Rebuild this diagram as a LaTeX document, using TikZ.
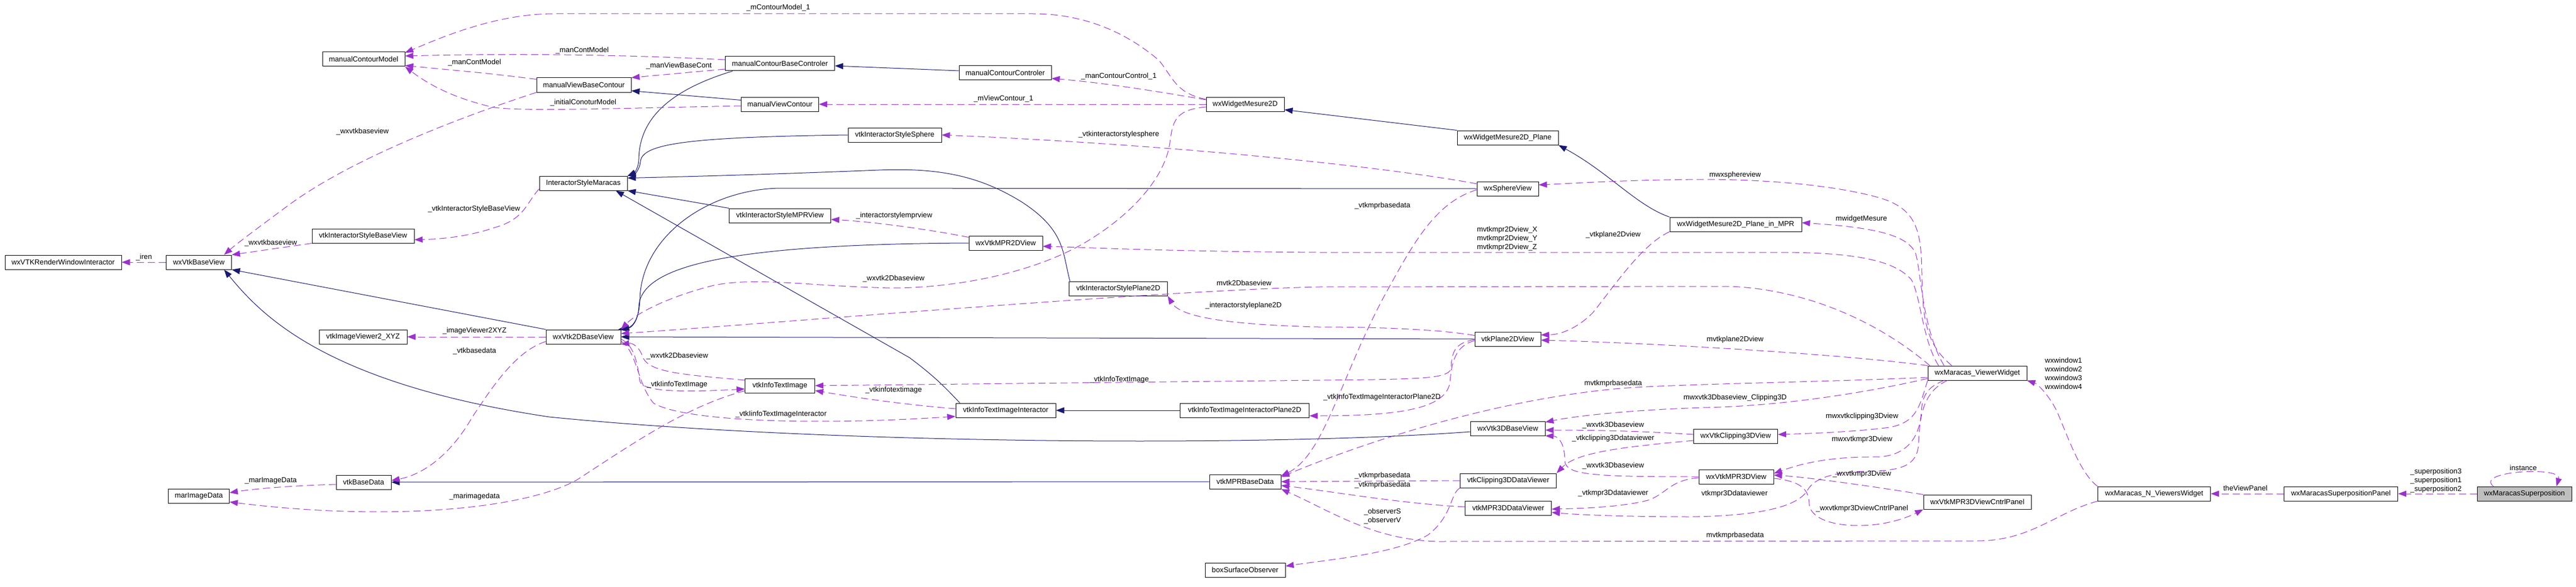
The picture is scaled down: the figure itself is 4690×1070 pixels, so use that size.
\documentclass[tikz,border=0pt]{standalone}
\usepackage{fontspec}
\setmainfont{Liberation Sans}
\usetikzlibrary{arrows.meta}
\definecolor{dblue}{HTML}{191970}
\definecolor{dpurple}{HTML}{9A32CD}
\definecolor{nodegrey}{HTML}{BFBFBF}
\newcommand{\dfont}{\fontsize{13.2}{16}\selectfont}
\begin{document}
\begin{tikzpicture}[x=1pt,y=-1pt,
  cls/.style={draw=black, line width=1pt, fill=white, minimum height=26pt, inner sep=0pt, font=\dfont},
  inh/.style={draw=dblue, line width=1pt, -{Triangle[length=15pt,width=11pt]}},
  use/.style={draw=dpurple, line width=1pt, dash pattern=on 13pt off 7pt, -{Triangle[length=15pt,width=11pt]}},
  lbl/.style={font=\dfont, inner sep=0pt, text=black},
  lbll/.style={font=\dfont, inner sep=0pt, text=black, align=left}]
\useasboundingbox[fill=white] (0,0) rectangle (4690,1070);

% ---------------- nodes ----------------
\node[cls,minimum width=150pt] (mcm) at (662,108) {manualContourModel};
\node[cls,minimum width=212pt] (rwi) at (115,478) {wxVTKRenderWindowInteractor};
\node[cls,minimum width=119pt] (vbv) at (362,478) {wxVtkBaseView};
\node[cls,minimum width=186pt] (isbv) at (661,430) {vtkInteractorStyleBaseView};
\node[cls,minimum width=160pt] (iv2) at (661,614) {vtkImageViewer2\_XYZ};
\node[cls,minimum width=100pt] (vbd) at (662,879) {vtkBaseData};
\node[cls,minimum width=111pt] (mid) at (362,904) {marImageData};
\node[cls,minimum width=199pt] (mcbc) at (1420,116) {manualContourBaseControler};
\node[cls,minimum width=172pt] (mvbc) at (1063,155) {manualViewBaseContour};
\node[cls,minimum width=141pt] (mvc) at (1420,190) {manualViewContour};
\node[cls,minimum width=160pt] (ism) at (1062,334) {InteractorStyleMaracas};
\node[cls,minimum width=185pt] (ismpr) at (1420,393) {vtkInteractorStyleMPRView};
\node[cls,minimum width=170pt] (issph) at (1629,246) {vtkInteractorStyleSphere};
\node[cls,minimum width=136pt] (v2d) at (1062,614) {wxVtk2DBaseView};
\node[cls,minimum width=127pt] (iti) at (1420,703) {vtkInfoTextImage};
\node[cls,minimum width=168pt] (mcc) at (1830,133) {manualContourControler};
\node[cls,minimum width=142pt] (wm2d) at (2267,190) {wxWidgetMesure2D};
\node[cls,minimum width=134pt] (mpr2d) at (1831,443) {wxVtkMPR2DView};
\node[cls,minimum width=179pt] (isp2d) at (2036,526) {vtkInteractorStylePlane2D};
\node[cls,minimum width=182pt] (itii) at (1831,748) {vtkInfoTextImageInteractor};
\node[cls,minimum width=235pt] (itiip) at (2266,748) {vtkInfoTextImageInteractorPlane2D};
\node[cls,minimum width=130pt] (mprbd) at (2267,878) {vtkMPRBaseData};
\node[cls,minimum width=146pt] (bso) at (2267,1039) {boxSurfaceObserver};
\node[cls,minimum width=184pt] (wm2dp) at (2745,251) {wxWidgetMesure2D\_Plane};
\node[cls,minimum width=112pt] (sph) at (2745,344) {wxSphereView};
\node[cls,minimum width=240pt] (wm2dpm) at (3160,409) {wxWidgetMesure2D\_Plane\_in\_MPR};
\node[cls,minimum width=120pt] (p2d) at (2745,618) {vtkPlane2DView};
\node[cls,minimum width=136pt] (v3d) at (2745,781) {wxVtk3DBaseView};
\node[cls,minimum width=175pt] (c3ddv) at (2746,876) {vtkClipping3DDataViewer};
\node[cls,minimum width=157pt] (m3ddv) at (2746,926) {vtkMPR3DDataViewer};
\node[cls,minimum width=153pt] (c3dv) at (3160,795) {wxVtkClipping3DView};
\node[cls,minimum width=136pt] (m3dv) at (3161,869) {wxVtkMPR3DView};
\node[cls,minimum width=180pt] (vw) at (3600,680) {wxMaracas\_ViewerWidget};
\node[cls,minimum width=196pt] (m3dcp) at (3600,915) {wxVtkMPR3DViewCntrlPanel};
\node[cls,minimum width=205pt] (nvw) at (3922,900) {wxMaracas\_N\_ViewersWidget};
\node[cls,minimum width=207pt] (spp) at (4262,900) {wxMaracasSuperpositionPanel};
\node[cls,minimum width=172pt,fill=nodegrey] (sp) at (4596,900) {wxMaracasSuperposition};

% ---------------- inheritance ----------------
\draw[inh] (v2d.north west) -- (vbv.south east);
\draw[inh] ([yshift=-6pt]v3d.west) .. controls (2300,815) and (1500,810) .. (1000,760) .. controls (600,700) and (480,580) .. ([xshift=46pt]vbv.south);
\draw[inh] (mpr2d.west) .. controls (1350,445) and (1165,480) .. (1163,560) .. controls (1162,585) and (1150,597) .. (v2d.north east);
\draw[inh] (sph.west) -- (1420,343) .. controls (1290,345) and (1168,430) .. (1165,545) .. controls (1164,585) and (1150,597) .. ([xshift=-5pt]v2d.north east);
\draw[inh] (p2d.west) -- (v2d.east);
\draw[inh] ([xshift=14pt]mcbc.south west) .. controls (1200,170) and (1164,230) .. (1163,290) .. controls (1163,305) and (1155,315) .. (ism.north east);
\draw[inh] (issph.west) .. controls (1250,250) and (1168,262) .. (1166,295) .. controls (1165,308) and (1155,318) .. (ism.north east);
\draw[inh] ([xshift=2pt]isp2d.north west) .. controls (1934,460) and (1940,420) .. (1860,368) .. controls (1790,325) and (1720,305) .. (1600,310) .. controls (1400,318) and (1250,322) .. ([yshift=-4pt]ism.north east);
\draw[inh] (ismpr.north west) -- (ism.south east);
\draw[inh] ([xshift=8pt]itii.north west) .. controls (1720,705) and (1700,685) .. (1656,652) -- ([xshift=59pt]ism.south);
\draw[inh] ([yshift=-6pt]mvc.north west) -- ([yshift=3pt]mvbc.south east);
\draw[inh] ([yshift=4pt]mcc.west) -- ([yshift=-4pt]mcbc.east);
\draw[inh] (wm2dp.north west) -- ([yshift=-10pt]wm2d.east);
\draw[inh] (wm2dpm.north west) .. controls (2980,375) and (2930,315) .. (wm2dp.south east);
\draw[inh] (itiip.west) -- (itii.east);
\draw[inh] (mprbd.west) -- (vbd.east);

% ---------------- usage ----------------
\draw[use] (vbv.west) -- (rwi.east);
\node[lbl] (l1) at (262,469) {\_iren};
\draw[use] (isbv.south west) -- (vbv.north east);
\node[lbl] (l2) at (493,443) {\_wxvtkbaseview};
\draw[use] (mvbc.south west) .. controls (880,200) and (650,280) .. (520,378) .. controls (470,415) and (430,445) .. ([xshift=46pt]vbv.north);
\node[lbl] (l3) at (660,240) {\_wxvtkbaseview};
\draw[use] ([yshift=-3pt]mvbc.north west) .. controls (900,135) .. ([yshift=2pt]mcm.south east);
\node[lbl] (l4) at (864,114) {\_manContModel};
\draw[use] ([yshift=7pt]mcbc.west) .. controls (1150,100) and (950,97) .. ([yshift=6pt]mcm.east);
\node[lbl] (l5) at (1060,92) {\_manContModel};
\draw[use] ([yshift=9pt]wm2d.west) .. controls (2140,170) and (2135,140) .. (2110,110) .. controls (2040,50) and (1960,25) .. (1880,25) -- (1010,25) .. controls (900,25) and (800,70) .. ([yshift=12pt]mcm.east);
\node[lbl] (l6) at (1417,14) {\_mContourModel\_1};
\draw[use] ([yshift=-10pt]mcbc.west) -- (mvbc.north east);
\node[lbl] (l7) at (1236,120) {\_manViewBaseCont};
\draw[use] ([yshift=-3pt]mvc.west) .. controls (1100,198) and (960,203) .. (900,196) .. controls (820,178) and (775,150) .. (mcm.south east);
\node[lbl] (l8) at (1062,187) {\_initialConoturModel};
\draw[use] (wm2d.west) -- (mvc.east);
\node[lbl] (l9) at (1827,180) {\_mViewContour\_1};
\draw[use] ([yshift=8pt]wm2d.west) .. controls (2100,165) and (2000,150) .. ([yshift=-10pt]mcc.east);
\node[lbl] (l10) at (2037,139) {\_manContourControl\_1};
\draw[use] ([yshift=9pt]sph.west) .. controls (2500,300) and (2100,262) .. (issph.east);
\node[lbl] (l11) at (2037,245) {\_vtkinteractorstylesphere};
\draw[use] ([yshift=3pt]ism.south west) .. controls (958,370) and (955,400) .. (900,415) .. controls (850,432) and (800,436) .. ([yshift=-7pt]isbv.east);
\node[lbl] (l12) at (863,381) {\_vtkInteractorStyleBaseView};
\draw[use] ([yshift=-3pt]mpr2d.north west) .. controls (1700,420) and (1600,405) .. ([yshift=-7pt]ismpr.east);
\node[lbl] (l13) at (1628,393) {\_interactorstylemprview};
\draw[use] ([yshift=-5pt]wm2d.west) .. controls (2140,200) and (2135,220) .. (2130,260) .. controls (2120,330) and (2050,400) .. (1967,447) .. controls (1880,495) and (1750,525) .. (1620,525) .. controls (1450,520) and (1380,505) .. (1300,520) .. controls (1220,540) and (1160,570) .. (v2d.north east);
\node[lbl] (l14) at (1627,508) {\_wxvtk2Dbaseview};
\draw[use] ([xshift=4pt]vw.north west) .. controls (3460,620) and (3330,530) .. (3150,522) -- (2400,523) .. controls (2100,530) and (1400,590) .. ([yshift=6pt]v2d.east);
\node[lbl] (l15) at (2265,516) {mvtk2Dbaseview};
\draw[use] ([xshift=44pt]vw.north west) .. controls (3510,630) and (3500,590) .. (3499,500) .. controls (3498,420) and (3490,380) .. (3420,360) .. controls (3330,335) and (3200,327) .. (3100,327) .. controls (2950,328) and (2850,335) .. ([yshift=7pt]sph.east);
\node[lbl] (l16) at (3159,319) {mwxsphereview};
\draw[use] ([xshift=30pt]vw.north west) .. controls (3500,600) and (3498,500) .. (3488,463) .. controls (3475,430) and (3420,415) .. ([yshift=3pt]wm2dpm.east);
\node[lbl] (l17) at (3389,399) {mwidgetMesure};
\draw[use] ([xshift=20pt]vw.north west) .. controls (3500,620) and (3497,540) .. (3480,510) .. controls (3450,475) and (3380,461) .. (3250,460) -- (2400,460) .. controls (2100,458) and (1950,450) .. ([yshift=-6pt]mpr2d.east);
\node[lbll] (l18) at (2744,435) {mvtkmpr2Dview\_X\\mvtkmpr2Dview\_Y\\mvtkmpr2Dview\_Z};
\draw[use] (vw.north west) .. controls (3350,645) and (3000,625) .. ([yshift=-2pt]p2d.east);
\node[lbl] (l19) at (3159,619) {mvtkplane2Dview};
\draw[use] (wm2dpm.south west) .. controls (2990,445) and (2940,520) .. (2900,570) .. controls (2870,600) and (2840,610) .. ([yshift=-6pt]p2d.north east);
\node[lbl] (l20) at (2937,428) {\_vtkplane2Dview};
\draw[use] ([yshift=-2pt]sph.west) .. controls (2610,370) and (2570,450) .. (2520,540) .. controls (2440,690) and (2410,830) .. ([yshift=-3pt]mprbd.north east);
\node[lbl] (l21) at (2517,375) {\_vtkmprbasedata};
\draw[use] ([yshift=-7pt]p2d.north west) .. controls (2620,600) and (2500,596) .. (2400,596) .. controls (2250,592) and (2150,580) .. (isp2d.south east);
\node[lbl] (l22) at (2264,557) {\_interactorstyleplane2D};
\draw[use] ([yshift=-3pt]p2d.west) .. controls (2650,630) and (2643,660) .. (2640,695) .. controls (2635,745) and (2550,758) .. ([yshift=-10pt]itiip.east);
\node[lbl] (l23) at (2516,724) {\_vtkInfoTextImageInteractorPlane2D};
\draw[use] ([yshift=-1pt]p2d.west) .. controls (2650,625) and (2643,640) .. (2642,670) .. controls (2641,688) and (2600,690) .. (2500,692) -- (iti.east);
\node[lbl] (l24) at (2038,692) {\_vtkInfoTextImage};
\draw[use] ([yshift=3pt]itii.west) .. controls (1650,738) and (1560,725) .. ([yshift=-9pt]iti.east);
\node[lbl] (l25) at (1627,711) {\_vtkinfotextimage};
\draw[use] ([yshift=10pt]iti.west) .. controls (1250,683) and (1180,680) .. (1170,650) .. controls (1163,630) and (1150,625) .. (v2d.south east);
\node[lbl] (l26) at (1233,649) {\_wxvtk2Dbaseview};
\draw[use] ([yshift=-4pt]v2d.east) .. controls (1155,630) and (1160,660) .. (1165,695) .. controls (1170,715) and (1250,715) .. ([yshift=-6pt]iti.west);
\node[lbl] (l27) at (1233,701) {\_vtkIinfoTextImage};
\draw[use] ([yshift=-8pt]v2d.east) .. controls (1160,640) and (1160,700) .. (1190,735) .. controls (1250,770) and (1500,775) .. ([yshift=-11pt]itii.west);
\node[lbl] (l28) at (1422,755) {\_vtkIinfoTextImageInteractor};
\draw[use] ([yshift=4pt]iti.south west) .. controls (1250,740) and (1150,810) .. (1050,875) .. controls (950,930) and (700,950) .. ([yshift=-11pt]mid.east);
\node[lbl] (l29) at (864,905) {\_marimagedata};
\draw[use] ([yshift=-4pt]vbd.west) .. controls (540,885) and (470,890) .. ([yshift=6pt]mid.east);
\node[lbl] (l30) at (493,876) {\_marImageData};
\draw[use] (v2d.west) -- (iv2.east);
\node[lbl] (l31) at (864,603) {\_imageViewer2XYZ};
\draw[use] ([yshift=5pt]v2d.south west) .. controls (940,640) and (900,700) .. (860,760) .. controls (820,830) and (770,865) .. ([yshift=3pt]vbd.east);
\node[lbl] (l32) at (864,640) {\_vtkbasedata};
\draw[use] ([yshift=-8pt]vw.west) .. controls (3300,697) and (3050,700) .. (2950,708) .. controls (2700,730) and (2450,820) .. ([yshift=-5pt]mprbd.north east);
\node[lbl] (l33) at (2937,699) {mvtkmprbasedata};
\draw[use] ([yshift=-10pt]vw.west) .. controls (3400,715) and (3250,740) .. (3100,743) .. controls (2950,748) and (2860,760) .. ([yshift=-2pt]v3d.north east);
\node[lbl] (l34) at (3159,725) {mwxvtk3Dbaseview\_Clipping3D};
\draw[use] (vw.south west) .. controls (3495,740) and (3490,770) .. (3440,779) .. controls (3380,787) and (3300,790) .. ([yshift=3pt]c3dv.east);
\node[lbl] (l35) at (3390,759) {mwxvtkclipping3Dview};
\draw[use] ([xshift=30pt]vw.south west) .. controls (3510,705) and (3500,720) .. (3498,750) .. controls (3495,800) and (3470,830) .. (3420,833) .. controls (3330,832) and (3280,845) .. ([yshift=6pt]m3dv.east);
\node[lbl] (l36) at (3390,801) {mwxvtkmpr3Dview};
\draw[use] ([xshift=36pt]vw.south west) .. controls (3500,715) and (3495,760) .. (3493,810) .. controls (3490,850) and (3460,858) .. (3400,859) .. controls (3330,860) and (3300,875) .. (3290,895) .. controls (3270,925) and (3200,940) .. (3080,942) .. controls (2950,942) and (2870,938) .. ([yshift=-8pt]m3ddv.east);
\node[lbl] (l37) at (3158,900) {vtkmpr3Ddataviewer};
\draw[use] (m3dcp.north west) .. controls (3400,885) and (3290,870) .. ([yshift=3pt]m3dv.east);
\node[lbl] (l38) at (3390,864) {\_wxvtkmpr3Dview};
\draw[use] ([yshift=-3pt]m3dv.east) .. controls (3290,878) and (3293,900) .. (3294,920) .. controls (3300,965) and (3420,970) .. (m3dcp.south west);
\node[lbl] (l39) at (3390,927) {\_wxvtkmpr3DviewCntrlPanel};
\draw[use] ([yshift=3pt]c3dv.west) .. controls (3000,786) and (2900,784) .. ([yshift=-3pt]v3d.east);
\node[lbl] (l40) at (2937,775) {\_wxvtk3Dbaseview};
\draw[use] ([yshift=-8pt]c3dv.west) .. controls (2950,815) and (2870,825) .. (c3ddv.north east);
\node[lbl] (l41) at (2937,799) {\_vtkclipping3Ddataviewer};
\draw[use] (m3dv.west) .. controls (2900,869) and (2850,866) .. (2849,840) .. controls (2849,805) and (2835,795) .. (v3d.south east);
\node[lbl] (l42) at (2937,849) {\_wxvtk3Dbaseview};
\draw[use] ([yshift=-2pt]m3dv.west) .. controls (3040,875) and (3035,900) .. (3000,912) .. controls (2950,925) and (2870,927) .. ([yshift=-2pt]m3ddv.east);
\node[lbl] (l43) at (2937,899) {\_vtkmpr3Ddataviewer};
\draw[use] (c3ddv.west) -- (mprbd.east);
\node[lbl] (l44) at (2517,867) {\_vtkmprbasedata};
\draw[use] ([yshift=2pt]m3ddv.west) .. controls (2550,918) and (2420,895) .. ([yshift=-7pt]mprbd.east);
\node[lbl] (l45) at (2517,884) {\_vtkmprbasedata};
\draw[use] (c3ddv.south west) .. controls (2640,900) and (2645,940) .. (2600,975) .. controls (2540,1010) and (2420,1020) .. ([yshift=7pt]bso.east);
\node[lbll] (l46) at (2517,941) {\_observerS\\\_observerV};
\draw[use] (nvw.south west) .. controls (3740,935) and (3700,985) .. (3600,986) -- (2620,987) .. controls (2500,985) and (2420,930) .. (mprbd.south east);
\node[lbl] (l47) at (3159,976) {mvtkmprbasedata};
\draw[use] (nvw.north west) .. controls (3790,865) and (3770,810) .. (3748,757) .. controls (3735,725) and (3710,700) .. (vw.south east);
\node[lbll,anchor=west] (l48) at (3723,681) {wxwindow1\\wxwindow2\\wxwindow3\\wxwindow4};
\draw[use] (spp.west) -- (nvw.east);
\node[lbl] (l49) at (4088,890) {theViewPanel};
\draw[use] (sp.west) -- (spp.east);
\node[lbll] (l50) at (4435,876) {\_superposition3\\\_superposition1\\\_superposition2};
\draw[use] ([xshift=30pt]sp.north west) .. controls (4505,858) and (4665,850) .. ([xshift=-28pt]sp.north east);
\node[lbl] (l51) at (4594,853) {instance};
\end{tikzpicture}
\end{document}
